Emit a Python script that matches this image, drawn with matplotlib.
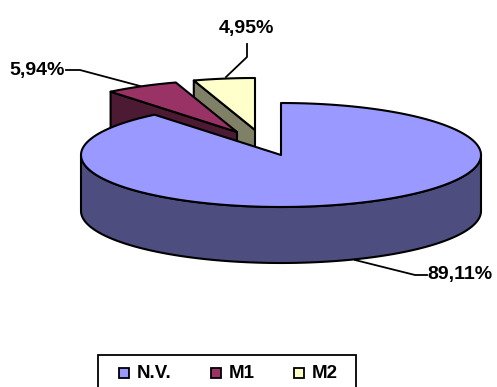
import numpy as np
import matplotlib
matplotlib.use('Agg')
import matplotlib.pyplot as plt
from matplotlib.patches import Rectangle

categories = ['N.V.', 'M1', 'M2']
shares = [89.11, 5.94, 4.95]
top_colors = ['#9999FF', '#993366', '#FFFFCC']
side_colors = ['#4D4D80', '#4D1A33', '#808066']

# pie geometry, in pixels
CX, CY = 281, 155
RX, RY = 200, 52
DEPTH = 56
offsets = [(0, 0), (-44, -23), (-26, -25)]
LW = 1.5


def rim(a0, a1, n=120):
    # angles run clockwise from 12 o'clock
    t = np.radians(np.linspace(a0, a1, n))
    return CX + RX * np.sin(t), CY - RY * np.cos(t)


def poly(ax, x, y, color, z):
    ax.fill(x, y, facecolor=color, edgecolor='black', lw=LW, joinstyle='round', zorder=z)


plt.rcParams['font.family'] = ['Liberation Sans', 'DejaVu Sans']
fig = plt.figure(figsize=(4.97, 3.87), dpi=100)
ax = fig.add_axes([0, 0, 1, 1])
ax.set_xlim(0, 497)
ax.set_ylim(387, 0)
ax.axis('off')

edges = np.cumsum([0] + shares) / sum(shares) * 360

# exploded slices first, the big one sits in front of them
for i, z in [(2, 2), (1, 3)]:
    dx, dy = offsets[i]
    x, y = rim(edges[i], edges[i + 1], 40)
    x, y = x + dx, y + dy
    ax_, ay_ = CX + dx, CY + dy
    # cut face running from the rim down to the centre
    poly(ax, [x[0], ax_, ax_, x[0]], [y[0], ay_, ay_ + DEPTH, y[0] + DEPTH], side_colors[i], z)
    poly(ax, np.r_[ax_, x], np.r_[ay_, y], top_colors[i], z + 0.5)

# main slice: front wall, then top
x, y = rim(90, 270)
poly(ax, np.r_[x, x[::-1]], np.r_[y + DEPTH, y[::-1]], side_colors[0], 5)
x, y = rim(edges[0], edges[1], 300)
poly(ax, np.r_[CX, x], np.r_[CY, y], top_colors[0], 6)

# leader lines and value labels
labels = [f'{v:.2f}'.replace('.', ',') + '%' for v in shares]
leaders = [([355, 415, 427], [260, 275, 275]),
           ([140, 80, 66], [86, 70, 70]),
           ([226, 247, 247], [77, 57, 44])]
label_pos = [(427, 275, 'left'), (65, 70, 'right'), (246, 28, 'center')]
for (lx, ly), (tx, ty, ha), s in zip(leaders, label_pos, labels):
    ax.plot(lx, ly, color='black', lw=1.3, zorder=7)
    ax.text(tx, ty, s, ha=ha, va='center', fontsize=14, fontweight='bold', color='black', zorder=8)

# legend box runs off the lower edge
ax.add_patch(Rectangle((98, 355), 258, 40, facecolor='white', edgecolor='black', lw=1.3, zorder=7))
swatch_x = [119, 211, 294]
text_x = [137, 229, 312]
for sx, tx, name, col in zip(swatch_x, text_x, categories, top_colors):
    ax.add_patch(Rectangle((sx, 368), 10, 10, facecolor=col, edgecolor='black', lw=1.3, zorder=8))
    ax.text(tx, 374, name, ha='left', va='center', fontsize=13.5, fontweight='bold', color='black', zorder=8)

fig.savefig('out.png', dpi=100)
